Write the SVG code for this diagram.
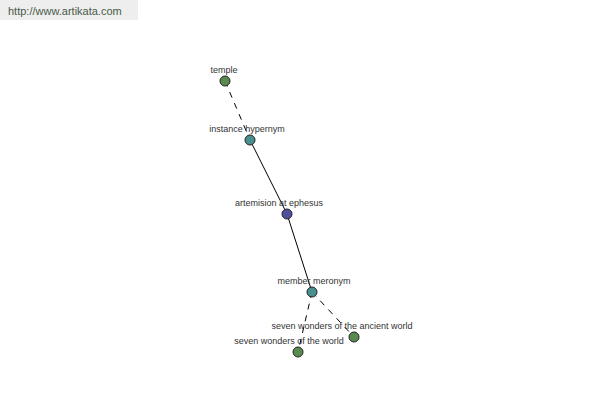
<svg xmlns="http://www.w3.org/2000/svg" width="600" height="400" viewBox="0 0 600 400">
<style>
.lbl{font-family:"Liberation Sans",Arial,sans-serif;font-size:9px;fill:#333;text-anchor:middle}
.n{stroke:#222;stroke-width:1}
.e{stroke:#000;stroke-width:1;fill:none}
.d{stroke-dasharray:6,6}
</style>
<rect width="600" height="400" fill="#fff"/>
<rect x="0" y="0" width="138" height="20" fill="#eeeeee"/>
<text x="8" y="15" font-family="Liberation Sans,Arial,sans-serif" font-size="11" fill="#4a5a4a">http://www.artikata.com</text>
<g id="connectors">
<line class="e d" x1="225" y1="81" x2="250" y2="140"/>
<line class="e" x1="250" y1="140" x2="287" y2="214"/>
<line class="e" x1="287" y1="214" x2="312" y2="292"/>
<line class="e d" x1="312" y1="292" x2="298" y2="352"/>
<line class="e d" x1="312" y1="292" x2="354" y2="337"/>
</g>
<g id="temple"><circle class="n" cx="225" cy="81" r="5" fill="#5a8a50"/><text class="lbl" x="224" y="73">temple</text></g>
<g id="instance-hypernym"><circle class="n" cx="250" cy="140" r="5" fill="#4a8f8f"/><text class="lbl" x="247" y="132">instance hypernym</text></g>
<g id="artemision"><circle class="n" cx="287" cy="214" r="5" fill="#4f4fa0"/><text class="lbl" x="279" y="206">artemision at ephesus</text></g>
<g id="member-meronym"><circle class="n" cx="312" cy="292" r="5" fill="#4a8f8f"/><text class="lbl" x="314" y="284">member meronym</text></g>
<g id="ancient-world"><circle class="n" cx="354" cy="337" r="5" fill="#5a8a50"/><text class="lbl" x="342" y="329">seven wonders of the ancient world</text></g>
<g id="world"><circle class="n" cx="298" cy="352" r="5" fill="#5a8a50"/><text class="lbl" x="289" y="344">seven wonders of the world</text></g>
</svg>
